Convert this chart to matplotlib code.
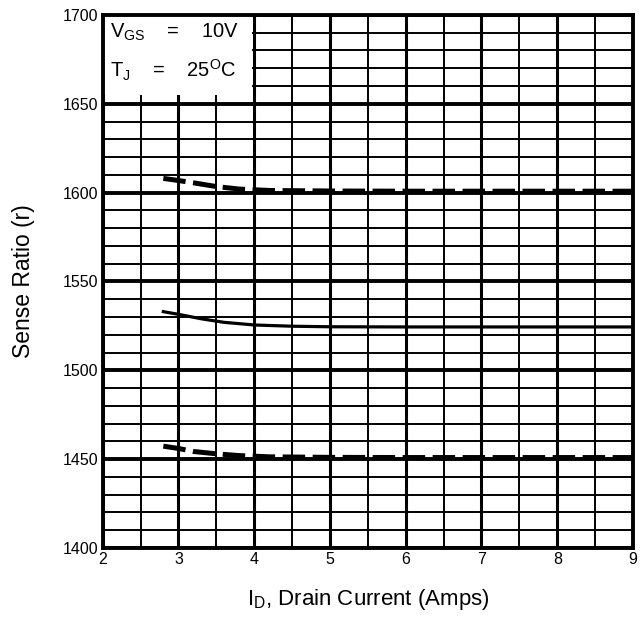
import matplotlib.pyplot as plt
from matplotlib.patches import Rectangle

plt.rcParams['font.family'] = ['Liberation Sans', 'DejaVu Sans']

# drain current (A) and sense ratio for the three curves
x_upper = [2.8, 3.0, 3.2, 3.5, 3.8, 4.2, 5, 6, 7, 8, 9]
r_upper = [1608, 1606.8, 1605.5, 1603.4, 1602, 1601.2, 1600.9, 1600.8, 1600.8, 1600.8, 1600.8]

x_typ = [2.8, 3.0, 3.3, 3.6, 4.0, 4.5, 5, 6, 7, 8, 9]
r_typ = [1533, 1531.5, 1529, 1527, 1525.5, 1524.8, 1524.5, 1524.4, 1524.4, 1524.4, 1524.4]

x_lower = [2.8, 3.0, 3.2, 3.5, 3.8, 4.2, 5, 6, 7, 8, 9]
r_lower = [1457.3, 1456, 1454.3, 1453, 1452, 1451.3, 1451, 1450.9, 1450.9, 1450.9, 1450.9]

x_ticks = [2, 3, 4, 5, 6, 7, 8, 9]
y_ticks = [1400, 1450, 1500, 1550, 1600, 1650, 1700]

fig = plt.figure(figsize=(6.42, 6.22), dpi=100)
ax = fig.add_axes([0.160, 0.119, 0.826, 0.857])
ax.set_xlim(2, 9)
ax.set_ylim(1400, 1700)

# chart-paper grid
for v in range(4, 18):
    xv = v / 2
    ax.axvline(xv, color='black', lw=2.2 if v % 2 == 0 else 1.4, zorder=1)
for h in range(1400, 1701, 10):
    ax.axhline(h, color='black', lw=2.8 if h % 50 == 0 else 1.4, zorder=1)

# white box holding the conditions
ax.add_patch(Rectangle((2, 1655), 1.97, 45, facecolor='white', edgecolor='none', zorder=2))
ax.text(2.09, 1690, 'V$_{\\mathregular{GS}}$    =    10V', fontsize=14.5, va='center', zorder=3)
ax.text(2.09, 1668.5, 'T$_{\\mathregular{J}}$    =    25$^{\\mathregular{O}}$C', fontsize=14.5, va='center', zorder=3)

ax.plot(x_upper, r_upper, color='black', lw=3.6, dashes=(4.5, 1.5), zorder=4)
ax.plot(x_typ, r_typ, color='black', lw=2.3, zorder=4)
ax.plot(x_lower, r_lower, color='black', lw=3.6, dashes=(4.5, 1.5), zorder=4)

ax.set_xticks(x_ticks)
ax.set_yticks(y_ticks)
ax.tick_params(length=0, labelsize=11.5, pad=3)
for s in ax.spines.values():
    s.set_linewidth(2.8)
    s.set_zorder(5)

ax.set_xlabel('I$_{\\mathregular{D}}$, Drain Current (Amps)', fontsize=16, labelpad=14)
ax.set_ylabel('Sense Ratio (r)', fontsize=16.5, labelpad=20)

fig.savefig('out.png', dpi=100)
